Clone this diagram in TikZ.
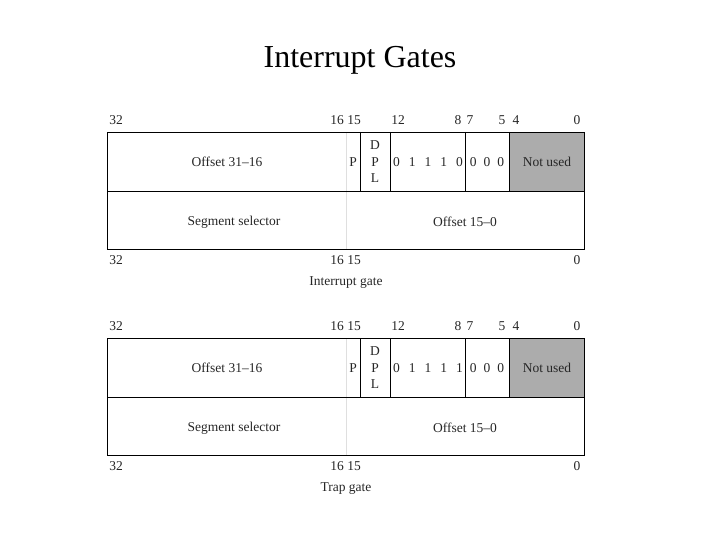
\documentclass[tikz,border=0pt]{standalone}
\usepackage{fontspec}
\setmainfont{Liberation Serif}
\newcommand\mygate[4]{%
 \begin{scope}[yshift=-#1pt]
 \fill[gray!65] (509,132) rectangle (584,191);
 \draw[lightdiv] (346,132) -- (346,249);
 \draw[box] (107,132) rectangle (584,249);
 \draw[box] (107,191) -- (584,191);
 \draw[box] (360,132) -- (360,191);
 \draw[box] (390,132) -- (390,191);
 \draw[box] (465,132) -- (465,191);
 \draw[box] (509,132) -- (509,191);
 \node[lbl] (#4off) at (227,162) {Offset 31--16};
 \node[lbl] (#4p) at (353,162) {P};
 \node[lbl,align=center] (#4dpl) at (375,162) {D\\[3pt]P\\[3pt]L};
 \node[lbl] (#4b) at (428,162) {0\hspace{9pt}1\hspace{9pt}1\hspace{9pt}1\hspace{9pt}#2};
 \node[lbl] (#4z) at (487,162) {0\hspace{7pt}0\hspace{7pt}0};
 \node[lbl] (#4nu) at (547,162) {Not used};
 \node[lbl] (#4seg) at (234,222) {Segment selector};
 \node[lbl] (#4o15) at (465,222) {Offset 15--0};
 \node[lbl] at (116,120) {32};
 \node[lbl] at (337,120) {16};
 \node[lbl] at (354,120) {15};
 \node[lbl] at (398,120) {12};
 \node[lbl] at (458,120) {8};
 \node[lbl] at (470,120) {7};
 \node[lbl] at (502,120) {5};
 \node[lbl] at (516,120) {4};
 \node[lbl] at (577,120) {0};
 \node[lbl] at (116,260) {32};
 \node[lbl] at (337,260) {16};
 \node[lbl] at (354,260) {15};
 \node[lbl] at (577,260) {0};
 \node[lbl] (#4cap) at (346,283) {#3};
 \end{scope}}
\begin{document}
\begin{tikzpicture}[x=1pt,y=-1pt,
  box/.style={draw=black,line width=0.7pt},
  lightdiv/.style={draw=gray!25,line width=1pt},
  lbl/.style={font=\fontsize{13.5}{13.5}\selectfont,inner sep=0pt,text=black!85}]
\useasboundingbox (0,0) rectangle (720,540);
\node (title) at (360,60) {\fontsize{32}{32}\selectfont Interrupt Gates};
\mygate{0}{0}{Interrupt gate}{a}
\mygate{206}{1}{Trap gate}{t}
\end{tikzpicture}
\end{document}
